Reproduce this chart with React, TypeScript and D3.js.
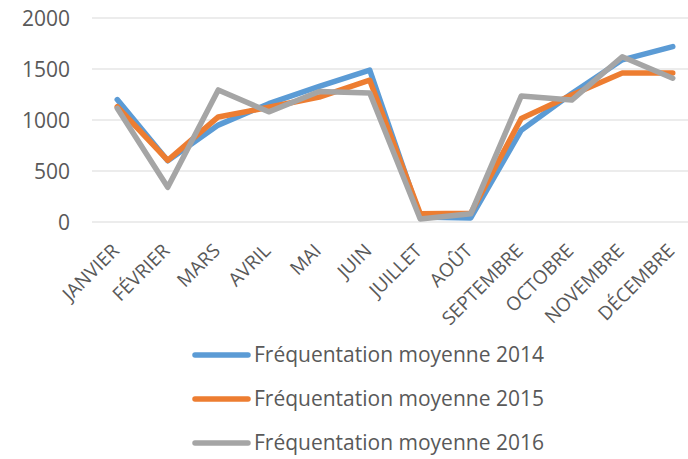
import React from "react";
import * as d3 from "d3";

const months = ["JANVIER","FÉVRIER","MARS","AVRIL","MAI","JUIN","JUILLET","AOÛT","SEPTEMBRE","OCTOBRE","NOVEMBRE","DÉCEMBRE"];
const s2014 = [1200, 600, 950, 1160, 1330, 1490, 50, 40, 900, 1260, 1590, 1720];
const s2015 = [1130, 605, 1030, 1125, 1225, 1390, 80, 85, 1015, 1245, 1460, 1460];
const s2016 = [1115, 340, 1295, 1080, 1280, 1265, 30, 80, 1235, 1195, 1620, 1410];
const yTicks = [0, 500, 1000, 1500, 2000];
const seriesNames = ["Fréquentation moyenne 2014", "Fréquentation moyenne 2015", "Fréquentation moyenne 2016"];
const colors = ["#5B9BD5", "#ED7D31", "#A5A5A5"];

export default function App() {
  const W = 688, H = 459;
  const x = d3.scalePoint<string>().domain(months).range([92, 698]).padding(0.5);
  const y = d3.scaleLinear().domain([0, 2000]).range([222, 18]);
  const line = d3.line<number>().x((_, i) => x(months[i]) as number).y(d => y(d));
  const all = [s2014, s2015, s2016];
  const font = "'Open Sans', sans-serif";
  return (
    <svg width={W} height={H} style={{ position: "absolute", left: 0, top: 0, background: "#fff" }}>
      {yTicks.map(t => (
        <g key={t}>
          <line x1={92} x2={688} y1={y(t)} y2={y(t)} stroke="#D9D9D9" strokeWidth={1} />
          <text x={70} y={y(t)} dy="0.36em" textAnchor="end" fontFamily={font} fontSize={21} fill="#595959">{t}</text>
        </g>
      ))}
      {months.map(m => (
        <text key={m} transform={`translate(${(x(m) as number) + 3},${252}) rotate(-45)`} textAnchor="end" fontFamily={font} fontSize={19} fill="#595959">{m}</text>
      ))}
      {all.map((s, i) => (
        <path key={i} d={line(s) as string} fill="none" stroke={colors[i]} strokeWidth={5.5} strokeLinejoin="round" strokeLinecap="round" />
      ))}
      {seriesNames.map((n, i) => {
        const ly = [355, 399, 443][i];
        return (
          <g key={n}>
            <line x1={195} x2={248} y1={ly} y2={ly} stroke={colors[i]} strokeWidth={5.5} strokeLinecap="round" />
            <text x={254} y={ly} dy="0.35em" fontFamily={font} fontSize={21} fill="#595959">{n}</text>
          </g>
        );
      })}
    </svg>
  );
}
